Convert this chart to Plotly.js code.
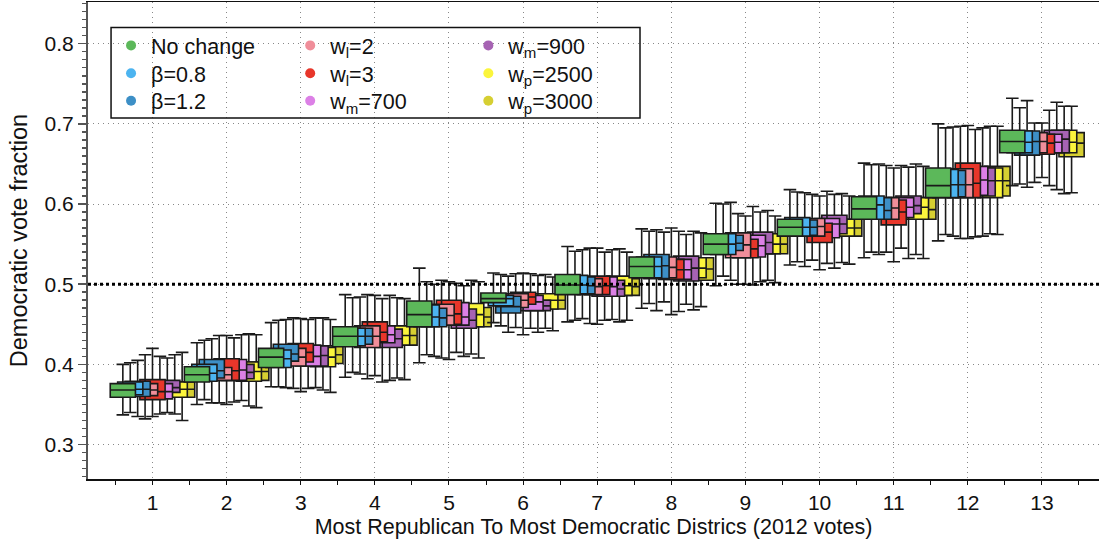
<!DOCTYPE html>
<html>
<head>
<meta charset="utf-8">
<script src="https://cdn.plot.ly/plotly-3.0.1.min.js"></script>
<style>html,body{margin:0;padding:0;background:#fff;}#chart{width:1099px;height:540px;}</style>
</head>
<body>
<div id="chart"></div>
<script>
// ---- data ----
const districts = [1,2,3,4,5,6,7,8,9,10,11,12,13];
const seriesNames = ["No change","β=0.8","β=1.2","w<sub>l</sub>=2","w<sub>l</sub>=3","w<sub>m</sub>=700","w<sub>m</sub>=900","w<sub>p</sub>=2500","w<sub>p</sub>=3000"];

const noChange_q1  = [.359,.378,.396,.422,.447,.477,.487,.508,.537,.560,.581,.608,.664];
const noChange_med = [.368,.387,.409,.435,.462,.482,.499,.522,.550,.571,.594,.623,.678];
const noChange_q3  = [.376,.397,.420,.447,.479,.489,.512,.534,.563,.581,.609,.645,.692];
const noChange_lo  = [.337,.350,.372,.384,.402,.452,.453,.470,.498,.524,.533,.554,.623];
const noChange_hi  = [.400,.427,.452,.487,.520,.514,.547,.569,.601,.618,.651,.700,.732];

const beta08_q1  = [.362,.379,.396,.423,.447,.473,.488,.508,.537,.560,.581,.608,.664];
const beta08_med = [.369,.389,.407,.435,.459,.482,.499,.522,.550,.571,.599,.624,.677];
const beta08_q3  = [.378,.400,.418,.445,.474,.486,.511,.534,.563,.583,.610,.643,.691];
const beta08_lo  = [.340,.356,.372,.390,.412,.448,.455,.476,.510,.528,.540,.562,.625];
const beta08_hi  = [.402,.430,.455,.483,.503,.512,.541,.566,.600,.615,.649,.695,.720];

const beta12_q1  = [.360,.383,.404,.425,.447,.464,.488,.507,.542,.561,.581,.609,.661];
const beta12_med = [.369,.392,.413,.435,.458,.472,.498,.523,.551,.571,.592,.624,.678];
const beta12_q3  = [.379,.406,.425,.445,.470,.485,.509,.537,.561,.580,.608,.642,.691];
const beta12_lo  = [.335,.352,.371,.388,.410,.440,.457,.467,.505,.522,.537,.560,.621];
const beta12_hi  = [.405,.432,.456,.484,.500,.510,.543,.568,.602,.614,.650,.696,.729];

const wl2_q1  = [.361,.380,.398,.421,.449,.471,.487,.508,.533,.560,.581,.608,.664];
const wl2_med = [.368,.387,.409,.435,.461,.480,.497,.521,.549,.572,.595,.624,.678];
const wl2_q3  = [.376,.396,.420,.448,.475,.488,.507,.534,.564,.582,.608,.644,.689];
const wl2_lo  = [.332,.352,.370,.382,.408,.446,.451,.478,.500,.530,.540,.557,.627];
const wl2_hi  = [.412,.436,.458,.487,.505,.513,.545,.565,.588,.612,.648,.697,.701];

const wl3_q1  = [.356,.380,.403,.428,.450,.475,.487,.506,.533,.552,.574,.608,.662];
const wl3_med = [.366,.392,.415,.440,.463,.484,.498,.518,.544,.565,.590,.626,.676];
const wl3_q3  = [.381,.407,.426,.453,.480,.490,.510,.531,.556,.576,.605,.651,.687];
const wl3_lo  = [.335,.350,.366,.386,.406,.437,.450,.462,.500,.518,.528,.557,.633];
const wl3_hi  = [.420,.436,.457,.486,.503,.514,.545,.570,.585,.610,.645,.698,.701];

const wm700_q1  = [.357,.380,.398,.427,.449,.467,.485,.506,.534,.558,.583,.611,.664];
const wm700_med = [.366,.393,.410,.437,.459,.478,.497,.518,.548,.575,.596,.630,.677];
const wm700_q3  = [.376,.406,.424,.448,.477,.486,.509,.531,.561,.582,.608,.647,.687];
const wm700_lo  = [.338,.353,.370,.378,.415,.445,.455,.466,.499,.526,.545,.559,.623];
const wm700_hi  = [.410,.433,.456,.482,.501,.513,.540,.566,.597,.616,.648,.693,.717];

const wm900_q1  = [.365,.382,.398,.421,.445,.467,.485,.504,.538,.563,.588,.610,.664];
const wm900_med = [.371,.390,.411,.432,.455,.473,.494,.520,.552,.575,.598,.629,.681];
const wm900_q3  = [.380,.400,.423,.444,.469,.480,.505,.535,.565,.586,.610,.645,.692];
const wm900_lo  = [.340,.355,.371,.380,.410,.440,.456,.475,.503,.520,.532,.560,.618];
const wm900_hi  = [.408,.437,.458,.486,.498,.511,.543,.562,.590,.612,.646,.695,.727];

const wp2500_q1  = [.359,.379,.397,.424,.447,.469,.486,.508,.538,.560,.581,.608,.664];
const wp2500_med = [.369,.391,.409,.436,.462,.480,.498,.520,.550,.570,.596,.629,.677];
const wp2500_q3  = [.378,.403,.421,.448,.476,.488,.510,.533,.563,.581,.608,.645,.692];
const wp2500_lo  = [.338,.348,.368,.383,.413,.445,.453,.468,.505,.527,.537,.563,.613];
const wp2500_hi  = [.412,.438,.458,.483,.505,.512,.544,.566,.592,.613,.650,.697,.722];

const wp3000_q1  = [.359,.380,.401,.424,.447,.469,.486,.505,.538,.560,.581,.610,.659];
const wp3000_med = [.369,.391,.412,.436,.459,.480,.497,.519,.550,.570,.593,.629,.676];
const wp3000_q3  = [.378,.403,.423,.447,.471,.488,.507,.533,.561,.581,.608,.647,.689];
const wp3000_lo  = [.330,.346,.365,.381,.408,.442,.455,.472,.502,.525,.532,.562,.614];
const wp3000_hi  = [.415,.437,.456,.482,.503,.509,.540,.564,.585,.610,.647,.697,.722];

// ---- styles ----
const colors = ["#5cb85a","#4cb4f0","#3d8fc6","#f08e9a","#e8362a","#dc80e6","#a663b3","#fbf53c","#d6cf32"];
const offsets = [-0.4,-0.3,-0.2,-0.1,0,0.1,0.2,0.3,0.4];

const stats = [
  [noChange_q1,noChange_med,noChange_q3,noChange_lo,noChange_hi],
  [beta08_q1,beta08_med,beta08_q3,beta08_lo,beta08_hi],
  [beta12_q1,beta12_med,beta12_q3,beta12_lo,beta12_hi],
  [wl2_q1,wl2_med,wl2_q3,wl2_lo,wl2_hi],
  [wl3_q1,wl3_med,wl3_q3,wl3_lo,wl3_hi],
  [wm700_q1,wm700_med,wm700_q3,wm700_lo,wm700_hi],
  [wm900_q1,wm900_med,wm900_q3,wm900_lo,wm900_hi],
  [wp2500_q1,wp2500_med,wp2500_q3,wp2500_lo,wp2500_hi],
  [wp3000_q1,wp3000_med,wp3000_q3,wp3000_lo,wp3000_hi]
];

const font = 'Liberation Sans, Arial, Helvetica, sans-serif';
const traces = [];
// draw later series first so earlier ones sit on top
for (let i = stats.length - 1; i >= 0; i--) {
  const s = stats[i];
  traces.push({
    type: 'box',
    x: districts.map(d => d + offsets[i]),
    q1: s[0], median: s[1], q3: s[2], lowerfence: s[3], upperfence: s[4],
    width: 0.34,
    whiskerwidth: 0.5,
    fillcolor: colors[i],
    line: {color: '#1a1a1a', width: 1.6},
    boxpoints: false,
    showlegend: false,
    hoverinfo: 'skip'
  });
}

// legend: one small legend per entry, laid out as 3 columns x 3 rows
const legendCols = [0.0228, 0.2000, 0.3762];   // paper x of each column
const legendRows = [0.909, 0.8507, 0.7931];    // paper y of each row
const layoutLegends = {};
for (let i = 0; i < seriesNames.length; i++) {
  const key = i === 0 ? 'legend' : 'legend' + (i + 1);
  traces.push({
    type: 'scatter', mode: 'markers', x: [null], y: [null],
    name: seriesNames[i],
    marker: {color: colors[i], size: 10, symbol: 'circle'},
    legend: key,
    showlegend: true
  });
  layoutLegends[key] = {
    x: legendCols[Math.floor(i / 3)], y: legendRows[i % 3],
    xanchor: 'left', yanchor: 'middle',
    bgcolor: 'rgba(0,0,0,0)', borderwidth: 0,
    font: {family: font, size: 21.5, color: '#111'}
  };
}

const layout = Object.assign({
  width: 1099, height: 540,
  margin: {l: 88, r: 0, t: 2, b: 61},
  paper_bgcolor: '#fff', plot_bgcolor: '#fff',
  font: {family: font, size: 21, color: '#111'},
  boxmode: 'overlay',
  showlegend: true,
  xaxis: {
    range: [0.13, 13.77],
    tickmode: 'array', tickvals: districts, ticktext: districts.map(String),
    ticks: 'outside', ticklen: 4, tickcolor: '#111', tickwidth: 1,
    showline: true, linecolor: '#111', linewidth: 1.5, mirror: true,
    showgrid: true, gridcolor: '#888', griddash: '1px,4px', gridwidth: 1,
    zeroline: false,
    tickfont: {family: font, size: 21, color: '#111'},
    minor: {tickmode: 'linear', tick0: 0.5, dtick: 1, ticks: 'outside', ticklen: 4, tickcolor: '#111', showgrid: false},
    title: {text: 'Most Republican To Most Democratic Districs (2012 votes)', font: {family: font, size: 21.5, color: '#111'}, standoff: 6}
  },
  yaxis: {
    range: [0.257, 0.852],
    tickmode: 'linear', tick0: 0.3, dtick: 0.1, tickformat: '.1f',
    ticks: 'outside', ticklen: 8, tickcolor: '#555', tickwidth: 1.5,
    showline: true, linecolor: '#555', linewidth: 2,
    showgrid: true, gridcolor: '#888', griddash: '1px,4px', gridwidth: 1,
    zeroline: false,
    tickfont: {family: font, size: 21, color: '#111'},
    minor: {dtick: 0.01, ticks: 'outside', ticklen: 4, tickcolor: '#555', showgrid: false},
    title: {text: 'Democratic vote fraction', font: {family: font, size: 23.5, color: '#111'}, standoff: 10}
  },
  shapes: [{
    type: 'line', xref: 'paper', x0: 0, x1: 1, yref: 'y', y0: 0.5, y1: 0.5,
    line: {color: '#000', width: 3, dash: 'dot'}, layer: 'above'
  }, {
    type: 'rect', xref: 'paper', yref: 'paper',
    x0: 0.0228, x1: 0.546, y0: 0.7568, y1: 0.9465,
    line: {color: '#111', width: 1.5}, fillcolor: 'rgba(0,0,0,0)', layer: 'above'
  }]
}, layoutLegends);

Plotly.newPlot('chart', traces, layout, {staticPlot: true, displayModeBar: false});
</script>
</body>
</html>
